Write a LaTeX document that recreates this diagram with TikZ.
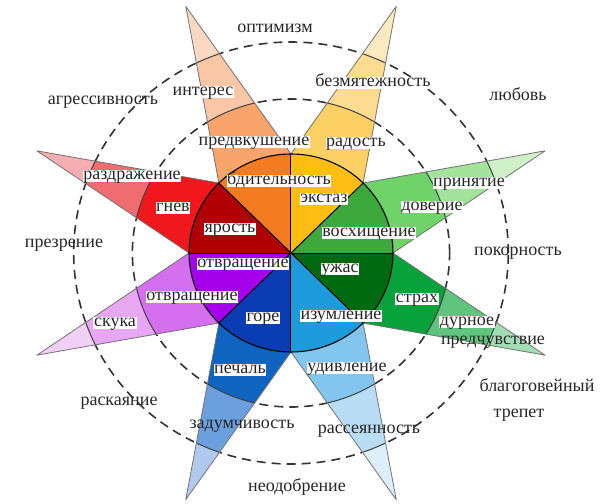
\documentclass[tikz,border=0pt]{standalone}
\usepackage{fontspec}
\setmainfont{Liberation Serif}
\newfontfamily\rufont{Liberation Serif}
\definecolor{orI}{HTML}{F47B20}\definecolor{orB}{HTML}{F8A46A}\definecolor{orC}{HTML}{F9C6A6}\definecolor{orT}{HTML}{FBD8C2}
\definecolor{yeI}{HTML}{FDBD13}\definecolor{yeB}{HTML}{FDD064}\definecolor{yeC}{HTML}{FDDC92}\definecolor{yeT}{HTML}{FBE9C0}
\definecolor{lgI}{HTML}{3DA93D}\definecolor{lgB}{HTML}{6FD36A}\definecolor{lgC}{HTML}{A4E39B}\definecolor{lgT}{HTML}{CFF0C8}
\definecolor{dgI}{HTML}{006A10}\definecolor{dgB}{HTML}{07A23C}\definecolor{dgC}{HTML}{5FC47E}\definecolor{dgT}{HTML}{A4DDB5}
\definecolor{lbI}{HTML}{1E9BDB}\definecolor{lbB}{HTML}{82C6EF}\definecolor{lbC}{HTML}{B8DDF5}\definecolor{lbT}{HTML}{DDEFFB}
\definecolor{blI}{HTML}{0A3CB4}\definecolor{blB}{HTML}{0E64BE}\definecolor{blC}{HTML}{6C9FDD}\definecolor{blT}{HTML}{B2C9EE}
\definecolor{puI}{HTML}{A500EB}\definecolor{puB}{HTML}{D66EF0}\definecolor{puC}{HTML}{E7A7F2}\definecolor{puT}{HTML}{F1D0F6}
\definecolor{reI}{HTML}{B00006}\definecolor{reB}{HTML}{F0181C}\definecolor{reC}{HTML}{F06C70}\definecolor{reT}{HTML}{F6AEB0}
\begin{document}
\begin{tikzpicture}[x=1pt,y=1pt,
  lbl/.style={font=\rufont\fontsize{18}{20}\selectfont, inner sep=0.6pt, text=black!85},
  wlbl/.style={lbl, fill=white, text height=9pt, text depth=2.5pt},
  dashcirc/.style={draw=black!80, line width=1.6pt, dash pattern=on 9pt off 6pt},
  band/.style={draw=black!75, line width=1pt},
  petaledge/.style={draw=black!55, line width=0.8pt, line join=round}]
\useasboundingbox (-291,-251) rectangle (315,253);
\def\sx{1.03}
\draw[dashcirc] (0,0) ellipse [x radius={\sx*154}, y radius=154];
\draw[dashcirc] (0,0) ellipse [x radius={\sx*211}, y radius=211];
\foreach \a/\ci/\cb/\cc/\ct in {112.5/orI/orB/orC/orT, 67.5/yeI/yeB/yeC/yeT, 22.5/lgI/lgB/lgC/lgT, -22.5/dgI/dgB/dgC/dgT, -67.5/lbI/lbB/lbC/lbT, -112.5/blI/blB/blC/blT, -157.5/puI/puB/puC/puT, 157.5/reI/reB/reC/reT} {
  \begin{scope}
    \clip (\a-22.5:{\sx*99} and 99) -- (\a:{\sx*267} and 267) -- (\a+22.5:{\sx*99} and 99) -- cycle;
    \fill[\ct] (-300,-300) rectangle (300,300);
    \fill[\cc] (0,0) ellipse [x radius={\sx*211}, y radius=211];
    \fill[\cb] (0,0) ellipse [x radius={\sx*154}, y radius=154];
    \draw[band] (0,0) ellipse [x radius={\sx*211}, y radius=211];
    \draw[band] (0,0) ellipse [x radius={\sx*154}, y radius=154];
  \end{scope}
  \draw[petaledge] (\a-22.5:{\sx*99} and 99) -- (\a:{\sx*267} and 267) -- (\a+22.5:{\sx*99} and 99);
  \fill[\ci] (0,0) -- (\a-22.5:{\sx*99} and 99) arc[start angle=\a-22.5, end angle=\a+22.5, x radius={\sx*99}, y radius=99] -- cycle;
}
\foreach \b in {0,45,...,315} \draw[black, line width=1pt] (0,0) -- (\b:{\sx*99} and 99);
\draw[black, line width=1.1pt] (0,0) ellipse [x radius={\sx*99}, y radius=99];
% labels
\node[lbl] (l1) at (-16,225) {оптимизм};
\node[lbl] (l2) at (-188,151) {агрессивность};
\node[wlbl] (l3) at (-88,161) {интерес};
\node[wlbl] (l4) at (82,170) {безмятежность};
\node[lbl] (l5) at (227,159) {любовь};
\node[wlbl] (l6) at (-37,111) {предвкушение};
\node[wlbl] (l7) at (65,110) {радость};
\node[wlbl] (l8) at (-159,77) {раздражение};
\node[wlbl] (l9) at (-12,72) {бдительность};
\node[wlbl] (l10) at (33,54) {экстаз};
\node[wlbl] (l11) at (178,70) {принятие};
\node[wlbl] (l12) at (-118,45) {гнев};
\node[wlbl] (l13) at (141,46) {доверие};
\node[wlbl] (l14) at (-61,24) {ярость};
\node[wlbl] (l15) at (78,20) {восхищение};
\node[lbl] (l16) at (-227,8) {презрение};
\node[lbl] (l17) at (227,0) {покорность};
\node[wlbl] (l18) at (-48,-11) {отвращение};
\node[wlbl] (l19) at (49,-16) {ужас};
\node[wlbl] (l20) at (-99,-44) {отвращение};
\node[wlbl] (l21) at (126,-46) {страх};
\node[wlbl] (l22) at (-176,-70) {скука};
\node[wlbl] (l23) at (-28,-65) {горе};
\node[wlbl] (l24) at (50,-63) {изумление};
\node[wlbl] (l25) at (176,-69) {дурное};
\node[lbl] (l26) at (202,-89) {предчувствие};
\node[wlbl] (l27) at (-51,-117) {печаль};
\node[wlbl] (l28) at (56,-115) {удивление};
\node[lbl] (l29) at (246,-132) {благоговейный};
\node[lbl] (l30) at (228,-162) {трепет};
\node[lbl] (l31) at (-172,-150) {раскаяние};
\node[lbl] (l32) at (-49,-173) {задумчивость};
\node[lbl] (l33) at (78,-178) {рассеянность};
\node[lbl] (l34) at (6,-234) {неодобрение};
\end{tikzpicture}
\end{document}
